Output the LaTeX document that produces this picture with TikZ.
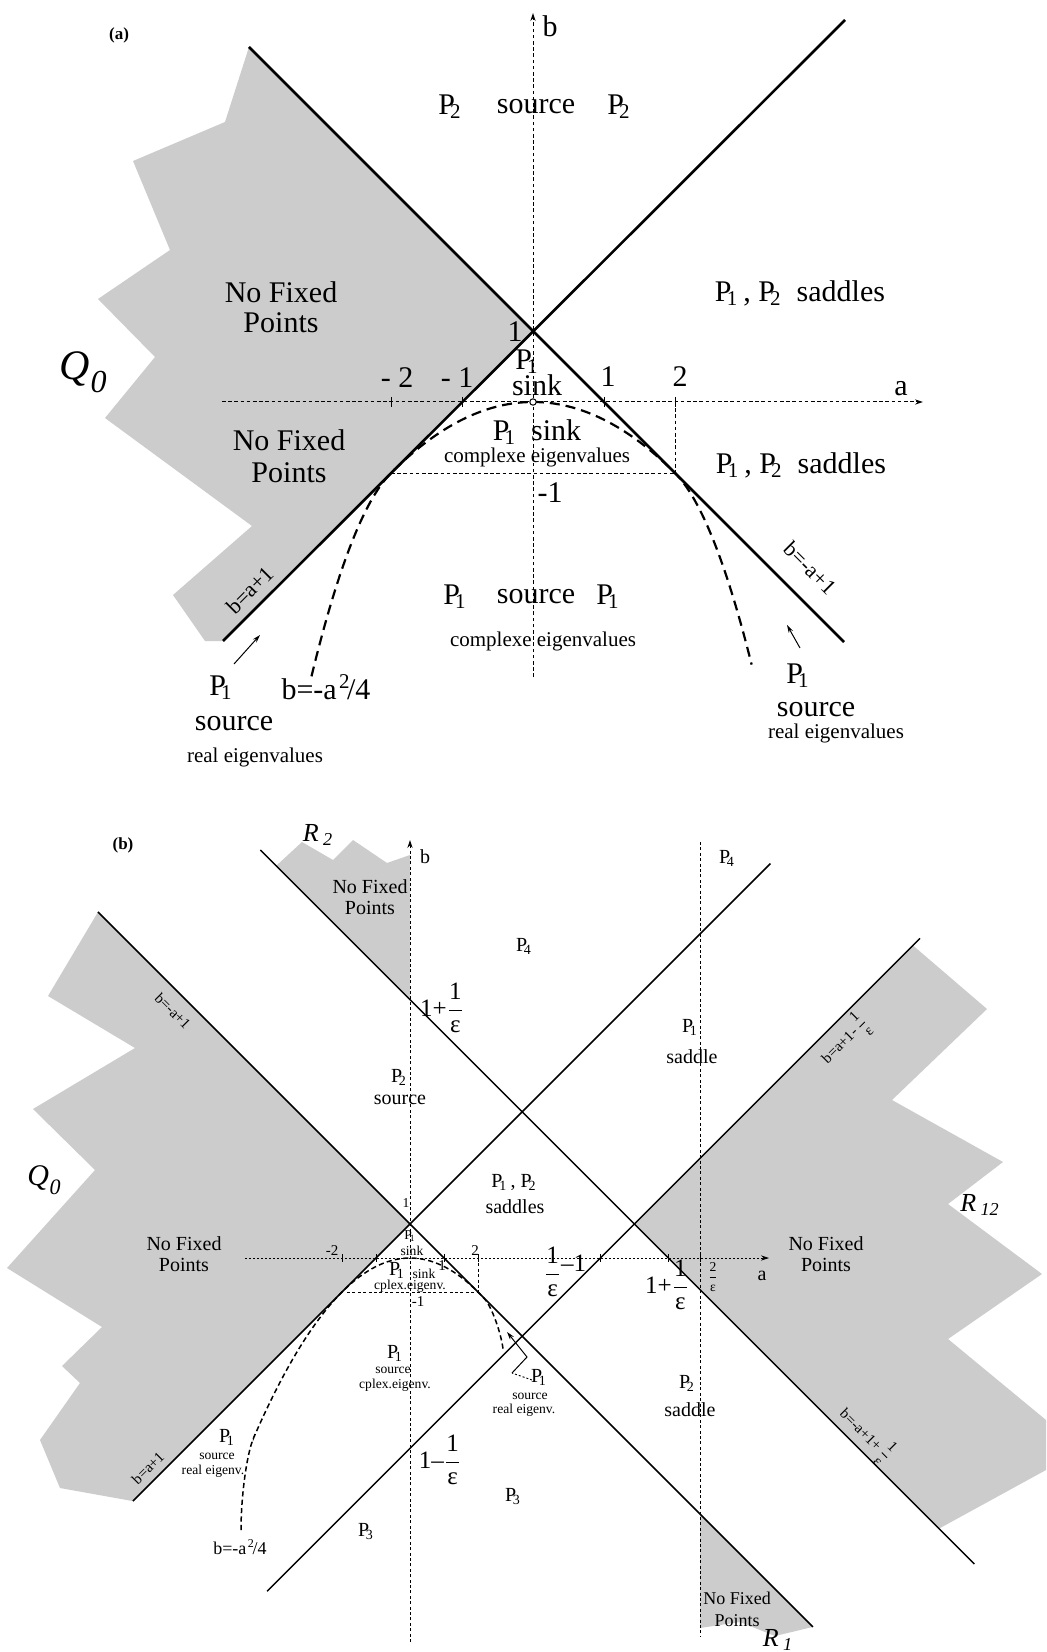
\documentclass[tikz,border=0pt]{standalone}
\usepackage{amsmath}
\usepackage{fontspec}
\setmainfont{Liberation Serif}
\usetikzlibrary{arrows.meta}
\newcommand{\Ps}[1]{P\kern-0.16em\textsubscript{#1}}
\newcommand{\fr}[2]{\ensuremath{\genfrac{}{}{0.4pt}{0}{\mbox{#1}}{\mbox{#2}}}}
\begin{document}
\begin{tikzpicture}[x=0.5pt,y=-0.5pt,
  gr/.style={fill=black!20,draw=none},
  la/.style={line width=1.3pt},
  lb/.style={line width=0.75pt},
  axa/.style={line width=0.5pt,dash pattern=on 1.8pt off 1.3pt},
  axb/.style={line width=0.45pt,dash pattern=on 1.5pt off 1.2pt},
  dotb/.style={line width=0.45pt,dash pattern=on 0.8pt off 1.2pt},
  pa/.style={line width=1.1pt,dash pattern=on 5pt off 3pt},
  pb/.style={line width=0.75pt,dash pattern=on 2.6pt off 1.6pt},
  tip/.style={-{Stealth[length=4pt,width=2.6pt]}},
  thin arrow/.style={line width=0.5pt,-{Stealth[length=4pt,width=2.4pt]}},
  TA/.style={font=\fontsize{15}{15}\selectfont,inner sep=0pt,align=center},
  TAs/.style={font=\fontsize{10.5}{12}\selectfont,inner sep=0pt},
  TAr/.style={font=\fontsize{11}{12}\selectfont,inner sep=0pt},
  TB/.style={font=\fontsize{10}{10.5}\selectfont,inner sep=0pt,align=center},
  TBs/.style={font=\fontsize{6.8}{7.5}\selectfont,inner sep=0pt},
  TBr/.style={font=\fontsize{7.5}{8}\selectfont,inner sep=0pt},
  TBm/.style={font=\fontsize{12.5}{14}\selectfont,inner sep=0pt},
  TBn/.style={font=\fontsize{9}{11}\selectfont,inner sep=0pt,align=center},
  lab/.style={font=\bfseries\fontsize{8.5}{10}\selectfont,inner sep=0pt},
  reg/.style={font=\itshape\fontsize{13}{14}\selectfont,inner sep=0pt},
]
\useasboundingbox (0,0) rectangle (1046,1652);
\fill[white] (0,0) rectangle (1046,1652);

%%%%%%%%%%%%%%%% PANEL (a) %%%%%%%%%%%%%%%%
% gray region Q0
\fill[gr] (249,47) -- (533,331) -- (223,641) -- (205,641) -- (173,595) -- (252,526)
  -- (105,418) -- (155,357) -- (98,299) -- (170,250) -- (133,161) -- (225,122) -- cycle;
% axes
\draw[axa,tip] (222,402) -- (923,402);
\draw[axa,tip] (533,677) -- (533,13);
\foreach \t in {391,462,604,675} \draw[line width=0.5pt] (\t,397) -- (\t,407);
\draw[axa] (675,402) -- (675,473);
\draw[axa] (391,473) -- (675,473);
% lines
\draw[la] (249,47) -- (844,642);
\draw[la] (223,641) -- (845,20);
% parabola
\begin{scope}[shift={(533,402)},x=35.5pt,y=35.5pt]
  \draw[pa] plot[domain=-3.12:3.08,samples=90,smooth]
    (\x,{-(\x)*(\x)/4-1.14*(abs(\x)>2)*(abs(\x)-2)*(abs(\x)-2)});
\end{scope}
\draw[line width=0.5pt,fill=white] (533,402) circle (1.6pt);
% arrows
\draw[thin arrow] (234,664) -- (260,635);
\draw[thin arrow] (800,648) -- (787,625);
% texts
\node[lab] (la) at (119,35) {(a)};
\node[TA] (ab) at (550,26) {b};
\node[TA] (aa) at (901,389) {a};
\node[TA] (p2l) at (450,107) {\Ps{2}};
\node[TA] (src1) at (536,107) {source};
\node[TA] (p2r) at (619,107) {\Ps{2}};
\node[TA] (nfp1) at (281,307) {No Fixed\\Points};
\node[TA] (nfp2) at (289,456) {No Fixed\\[1pt]Points};
\node[inner sep=0pt] (q0a) at (83,372) {\itshape\fontsize{21}{21}\selectfont Q\kern0.02em\raisebox{-0.3em}{\fontsize{16}{16}\selectfont 0}};
\node[TA] (sad1) at (800,293) {\Ps{1}\,, \Ps{2}\ \ saddles};
\node[TA] (sad2) at (801,465) {\Ps{1}\,, \Ps{2}\ \ saddles};
\node[TA] (one) at (515,332) {1};
\node[TA] (p1s) at (527,362) {\Ps{1}};
\node[TA] (sink1) at (537,385) {sink};
\node[TA] (m2) at (397,378) {- 2};
\node[TA] (m1) at (457,378) {- 1};
\node[TA] (pp1) at (608,377) {1};
\node[TA] (pp2) at (680,377) {2};
\node[TA] (p1sink) at (537,432) {\Ps{1}\ \ sink};
\node[TAs] (cev1) at (537,457) {complexe eigenvalues};
\node[TA] (mb1) at (550,493) {-1};
\node[TAr,rotate=-45] (eqr) at (810,568) {b=-a+1};
\node[TAr,rotate=45] (eql) at (250,590) {b=a+1};
\node[TA] (p1a) at (455,597) {\Ps{1}};
\node[TA] (src2) at (536,597) {source};
\node[TA] (p1b) at (608,597) {\Ps{1}};
\node[TAs] (cev2) at (543,641) {complexe eigenvalues};
\node[TA] (p1l) at (221,688) {\Ps{1}};
\node[TA] (srcl) at (234,724) {source};
\node[TAs] (rel) at (255,757) {real eigenvalues};
\node[TA] (para) at (326,687) {b=-a\kern0.08em\textsuperscript{2}\kern-0.12em/4};
\node[TA] (p1rr) at (798,676) {\Ps{1}};
\node[TA] (srcr) at (816,710) {source};
\node[TAs] (rer) at (836,733) {real eigenvalues};

%%%%%%%%%%%%%%%% PANEL (b) %%%%%%%%%%%%%%%%
% gray regions
\fill[gr] (98,912) -- (410,1224) -- (132.9,1501.1) -- (60,1488) -- (40,1440) -- (80,1383)
  -- (62,1366) -- (102,1327) -- (7,1268) -- (95,1170) -- (33,1109) -- (135,1048) -- (48,996) -- cycle;
\fill[gr] (276,866) -- (410,1000) -- (410,855) -- (387,863) -- (353,840) -- (333,860) -- (302,842) -- cycle;
\fill[gr] (913,945.5) -- (634.4,1224) -- (939,1528.6) -- (1046,1470) -- (1046,1420) -- (948,1339)
  -- (1042,1274) -- (948,1204) -- (1003,1162) -- (892,1100) -- (987,1009) -- cycle;
\fill[gr] (700,1514) -- (812.9,1626.9) -- (775,1636) -- (740,1622) -- (700,1628) -- cycle;
% axes
\draw[dotb,tip] (245,1258) -- (769,1258);
\draw[axb,tip] (410,1642) -- (410,840);
\draw[axb] (700,842) -- (700,1636);
\foreach \t in {342,376,444,478,600,668,700} \draw[line width=0.45pt] (\t,1254) -- (\t,1262);
\draw[axb] (478,1258) -- (478,1292);
\draw[axb] (347,1292) -- (478,1292);
% lines
\draw[lb] (97.9,911.9) -- (812.9,1626.9);
\draw[lb] (132.9,1501.1) -- (770.4,863.6);
\draw[lb] (260.4,850) -- (974.4,1564);
\draw[lb] (267.2,1591.2) -- (920,938.4);
% parabola
\begin{scope}[shift={(410,1258)},x=17pt,y=17pt]
  \draw[pb] (-4.97,-8) .. controls (-4.97,-7.0) and (-4.8,-5.75) .. (-4.6,-5.29)
    -- plot[domain=-4.6:2.2,samples=60] (\x,{-(\x)*(\x)/4})
    .. controls (2.4,-1.43) and (2.68,-2.2) .. (2.74,-2.7);
\end{scope}
% pointer
\draw[line width=0.45pt,dash pattern=on 1pt off 1pt] (532,1380) -- (512,1373);
\draw[thin arrow] (512,1373) -- (527,1357) -- (507,1332);
% texts
\node[lab] (lbb) at (123,845) {(b)};
\node[reg] (r2) at (318,835) {R\,\textsubscript{2}};
\node[TB] (nfr2) at (370,897) {No Fixed\\Points};
\node[TB] (bb) at (425,857) {b};
\node[TBr,rotate=-45] (eq1) at (173,1011) {b=-a+1};
\node[TBm] (ope) at (442,1008) {1+\fr{1}{ε}};
\node[TB] (p4a) at (727,858) {\Ps{4}};
\node[TB] (p4b) at (524,946) {\Ps{4}};
\node[TB] (p1sad) at (690,1027) {\Ps{1}};
\node[TB] (sad) at (692,1057) {saddle};
\node[TBr,rotate=45] (eq4) at (845,1040) {b=a+1-\,\fr{1}{ε}};
\node[TB] (p2src) at (399,1077) {\Ps{2}};
\node[TB] (srcb) at (400,1100) {source};
\node[TB] (p12) at (514,1182) {\Ps{1}\,, \Ps{2}};
\node[TB] (sads) at (515,1207) {saddles};
\node[inner sep=0pt] (q0b) at (44,1180) {\itshape\fontsize{15}{15}\selectfont Q\kern0.02em\raisebox{-0.3em}{\fontsize{11}{11}\selectfont 0}};
\node[TB] (nfq) at (184,1254) {No Fixed\\Points};
\node[reg] (r12) at (980,1205) {R\,\textsubscript{12}};
\node[TB] (nf12) at (826,1254) {No Fixed\\Points};
\node[TBs] (b1) at (406,1203) {1};
\node[TBs] (p1sk) at (410,1236) {\Ps{1}};
\node[TBs] (sk1) at (412,1251) {sink};
\node[TBr] (bm2) at (332,1251) {-2};
\node[TBr] (bp2) at (475,1251) {2};
\node[TBr] (bp1) at (442,1266) {1};
\node[TBm] (emo) at (565,1272) {\fr{1}{ε}\raisebox{0.35em}{–1}};
\node[TBm] (ope2) at (667,1285) {1+\fr{1}{ε}};
\node[TBs] (tte) at (713,1277) {\fr{2}{ε}};
\node[TB] (ba) at (762,1276) {a};
\node[TB] (p1sk2) at (397,1270) {\Ps{1}};
\node[TBs] (sk2) at (424,1274) {sink};
\node[TBs] (cev) at (410,1286) {cplex.eigenv.};
\node[TBr] (bm1) at (418,1302) {-1};
\node[TB] (p1src) at (395,1353) {\Ps{1}};
\node[TBs] (s2) at (393,1370) {source};
\node[TBs] (ce2) at (395,1385) {cplex.eigenv.};
\node[TB] (p1m) at (539,1377) {\Ps{1}};
\node[TBs] (s3) at (530,1396) {source};
\node[TBs] (re3) at (524,1410) {real eigenv.};
\node[TB] (p2sd) at (687,1383) {\Ps{2}};
\node[TB] (sd2) at (690,1410) {saddle};
\node[TBr,rotate=-45] (eq3) at (866,1435) {b=-a+1+\,\fr{1}{ε}};
\node[TB] (p1L) at (227,1437) {\Ps{1}};
\node[TBs] (sL) at (217,1456) {source};
\node[TBs] (reL) at (213,1471) {real eigenv.};
\node[TBr,rotate=45] (eq2) at (148,1468) {b=a+1};
\node[TBm] (omo) at (440,1460) {1–\fr{1}{ε}};
\node[TB] (p3a) at (513,1497) {\Ps{3}};
\node[TB] (p3b) at (366,1532) {\Ps{3}};
\node[TBn] (parab) at (240,1547) {b=-a\kern0.08em\textsuperscript{2}\kern-0.12em/4};
\node[TBn] (nfr1) at (737,1609) {No Fixed\\Points};
\node[reg] (r1) at (778,1640) {R\,\textsubscript{1}};
\end{tikzpicture}
\end{document}
